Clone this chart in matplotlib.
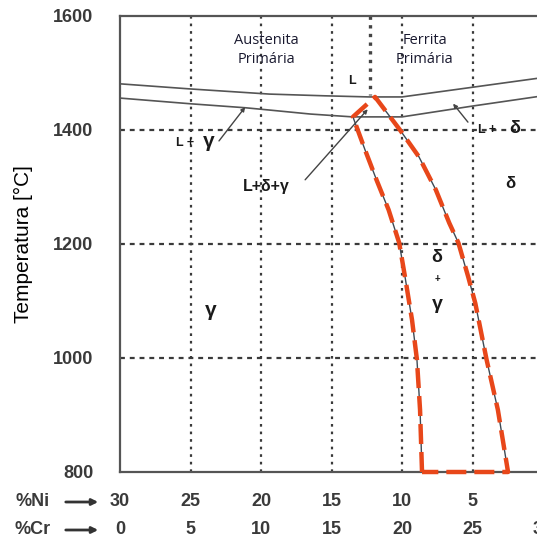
import numpy as np
import matplotlib.pyplot as plt
from matplotlib.patches import FancyArrowPatch

plt.rcParams['font.family'] = ['Liberation Sans', 'DejaVu Sans']

# x axis is % Cr, % Ni runs the other way
cr_ticks = [0, 5, 10, 15, 20, 25, 30]
ni_ticks = [30, 25, 20, 15, 10, 5, 0]
temp_ticks = [800, 1000, 1200, 1400, 1600]
grid_cr = [5, 10, 15, 20, 25]
grid_temp = [1000, 1200, 1400]

# liquidus and solidus lines
liq_cr = [0, 5, 10.6, 14.5, 17.7, 20, 25, 30]
liq_t = [1481, 1472, 1463, 1460, 1458, 1458, 1475, 1492]
sol_cr = [0, 5, 8.9, 10.6, 13.5, 16.5, 20, 25, 30]
sol_t = [1456, 1446, 1439, 1435, 1428, 1423, 1423, 1442, 1460]

# boundaries of the delta + gamma field (top to bottom)
left_cr = [16.52, 17.38, 18.2, 19.05, 19.8, 20.25, 20.71, 21.06, 21.28, 21.42]
left_t = [1423, 1365, 1312, 1260, 1202, 1137, 1067, 997, 909, 800]
right_cr = [18.09, 19.86, 21.2, 22.4, 23.35, 24.0, 24.7, 25.2, 26.0, 26.8, 27.52]
right_t = [1458, 1400, 1353, 1295, 1237, 1202, 1142, 1096, 997, 909, 800]

fig = plt.figure(figsize=(5.37, 5.42), dpi=100)
# the plot runs past the right border of the picture
ax = fig.add_axes([120/537, 70/542, 423/537, 456/542])
ax.set_xlim(0, 30)
ax.set_ylim(800, 1600)

for s in ['left', 'bottom', 'top']:
    ax.spines[s].set_color('#555555')
    ax.spines[s].set_linewidth(1.6)
ax.spines['right'].set_visible(False)

ax.set_yticks(temp_ticks)
ax.set_yticklabels([str(t) for t in temp_ticks], fontsize=13, fontweight='bold', color='#3a3a3a')
ax.tick_params(axis='y', length=0, pad=19)
ax.set_xticks([])

# grid
for c in grid_cr:
    ax.axvline(c, color='#3a3a3a', lw=1.6, ls=(0, (1.2, 2.2)), zorder=1)
for t in grid_temp:
    ax.axhline(t, color='#3a3a3a', lw=1.6, ls=(0, (2.2, 2.2)), zorder=1)
ax.plot([17.7, 17.7], [1600, 1462], color='#444444', lw=2.4, ls=(0, (1, 1.6)), zorder=1)

ax.plot(liq_cr, liq_t, color='#555555', lw=1.2, zorder=2)
ax.plot(sol_cr, sol_t, color='#555555', lw=1.2, zorder=2)
ax.plot(left_cr, left_t, color='#3d4a55', lw=1.0, zorder=2)
ax.plot(right_cr, right_t, color='#3d4a55', lw=1.0, zorder=2)

# red dashed outline of the delta + gamma field
red_cr = left_cr[::-1] + right_cr + [left_cr[-1]]
red_t = left_t[::-1] + right_t + [left_t[-1]]
ax.plot(red_cr, red_t, color='#e8471a', lw=3.2, ls=(0, (4.5, 1.8)), zorder=3,
        clip_on=False)

# leader lines
lk = dict(color='#444444', lw=1.0)
ax.annotate('', xy=(9.0, 1444), xytext=(6.9, 1377),
            arrowprops=dict(arrowstyle='-|>', mutation_scale=6, **lk))
ax.annotate('', xy=(17.7, 1440), xytext=(13.0, 1309),
            arrowprops=dict(arrowstyle='-|>', mutation_scale=6, **lk))
ax.annotate('', xy=(23.5, 1450), xytext=(24.8, 1410),
            arrowprops=dict(arrowstyle='-|>', mutation_scale=6, **lk))

hand = dict(color='#1a1a1a', ha='center', va='center', fontweight='bold')
ax.text(4.6, 1377, 'L +', fontsize=9, **hand)
ax.text(6.3, 1380, 'γ', fontsize=15, **hand)
ax.text(10.4, 1300, 'L+δ+γ', fontsize=11.5, **hand)
ax.text(26.0, 1400, 'L +', fontsize=9, **hand)
ax.text(28.0, 1403, 'δ', fontsize=13, **hand)
ax.text(16.45, 1486, 'L', fontsize=9, **hand)
ax.text(27.7, 1307, 'δ', fontsize=12, **hand)
ax.text(22.5, 1177, 'δ', fontsize=13, **hand)
ax.text(22.5, 1139, '+', fontsize=7, **hand)
ax.text(22.5, 1093, 'γ', fontsize=14, **hand)
ax.text(6.4, 1084, 'γ', fontsize=15, **hand)

ax.text(10.4, 1540, 'Austenita\nPrimária', fontsize=10.5, family='Open Sans',
        ha='center', va='center', color='#1a1a30', linespacing=1.35)
ax.text(21.6, 1540, 'Ferrita\nPrimária', fontsize=10.5, family='Open Sans',
        ha='center', va='center', color='#1a1a30', linespacing=1.35)

ax.set_ylabel('Temperatura [°C]', fontsize=15)
ax.yaxis.set_label_coords(-0.205, 0.50)

# composition scales below the axis
trans = ax.get_xaxis_transform()
for c, n in zip(cr_ticks, ni_ticks):
    ax.text(c, -0.065, str(n), transform=trans, ha='center', va='center',
            fontsize=13, fontweight='bold', color='#3a3a3a')
    ax.text(c, -0.127, str(c), transform=trans, ha='center', va='center',
            fontsize=13, fontweight='bold', color='#3a3a3a')

fig.text(33/537, 1 - 502/542, '%Ni', ha='center', va='center', fontsize=13,
         fontweight='bold', color='#3a3a3a')
fig.text(33/537, 1 - 530/542, '%Cr', ha='center', va='center', fontsize=13,
         fontweight='bold', color='#3a3a3a')
for yy in [502, 530]:
    fig.patches.append(FancyArrowPatch(
        (63/537, 1 - yy/542), (101/537, 1 - yy/542), transform=fig.transFigure,
        arrowstyle='-|>', mutation_scale=9, color='#333333', lw=2))

fig.savefig('out.png', dpi=100)
